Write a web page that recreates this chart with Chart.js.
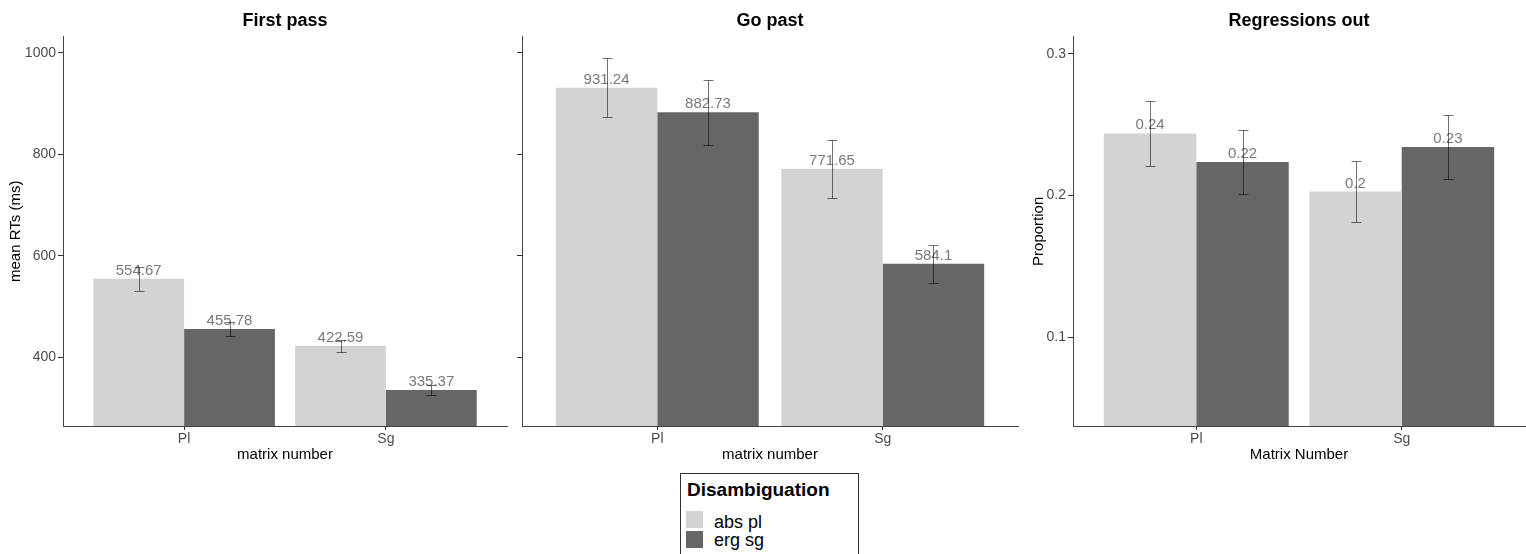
<!DOCTYPE html>
<html>
<head>
<meta charset="utf-8">
<script src="https://cdn.jsdelivr.net/npm/chart.js@4.4.1/dist/chart.umd.min.js"></script>
<style>
  body { margin:0; background:#fff; width:1526px; height:554px; overflow:hidden; position:relative; font-family:'Liberation Sans', Arial, sans-serif; }
  canvas { position:absolute; top:0; }
  #legend { position:absolute; left:680px; top:473px; width:179px; height:100px; box-sizing:border-box; border:1px solid #333; }
  #legend div { position:absolute; white-space:nowrap; }
  #legend .ttl { left:6px; top:6px; font-size:19px; line-height:19px; font-weight:bold; color:#000; }
  #legend .key { left:5px; width:17px; height:17px; }
  #legend .lbl { left:33px; font-size:18px; line-height:18px; color:#000; }
</style>
</head>
<body>
<canvas id="firstPass" width="515" height="470" style="left:0"></canvas>
<canvas id="goPast" width="510" height="470" style="left:515px"></canvas>
<canvas id="regressions" width="501" height="470" style="left:1025px"></canvas>
<div id="legend"></div>
<script>
// categorias e grupos
var categories = ['Pl', 'Sg']
var groups = ['abs pl', 'erg sg']
var groupColors = ['#d3d3d3', '#666666']
var legendTitle = 'Disambiguation'

// First pass (ms)
var firstPassAbs = [554.67, 422.59]
var firstPassErg = [455.78, 335.37]
var firstPassAbsErr = [24, 12]
var firstPassErgErr = [14, 9]

// Go past (ms)
var goPastAbs = [931.24, 771.65]
var goPastErg = [882.73, 584.1]
var goPastAbsErr = [58, 57]
var goPastErgErr = [64, 38]

// Regressions out (proportion)
var regAbs = [0.2438, 0.2028]
var regErg = [0.2236, 0.2342]
var regAbsErr = [0.0229, 0.0217]
var regErgErr = [0.0225, 0.0227]

// ticks do eixo y
var rtTicks = [400, 600, 800, 1000]
var propTicks = [0.1, 0.2, 0.3]

Chart.defaults.font.family = "'Liberation Sans', Arial, sans-serif"

/** Plugin para barras de erro e etiquetas de valor */
var errorBarPlugin = {
  id: 'errorBars',
  afterDatasetsDraw: function(chart){
    var ctx = chart.ctx
    var yScale = chart.scales.y
    chart.data.datasets.forEach(function(ds, di){
      var meta = chart.getDatasetMeta(di)
      meta.data.forEach(function(bar, i){
        var v = ds.data[i].y
        var e = ds.errors[i]
        var x = Math.round(bar.x) + 0.5
        // etiqueta
        ctx.save()
        ctx.font = '15px ' + Chart.defaults.font.family
        ctx.fillStyle = '#7a7a7a'
        ctx.textAlign = 'center'
        ctx.textBaseline = 'alphabetic'
        ctx.fillText(ds.valueLabels[i], bar.x, bar.y - 4)
        ctx.restore()
        // barra de erro
        var top = Math.round(yScale.getPixelForValue(v + e)) + 0.5
        var bottom = Math.round(yScale.getPixelForValue(v - e)) + 0.5
        ctx.save()
        ctx.strokeStyle = 'rgba(0,0,0,0.55)'
        ctx.lineWidth = 1
        ctx.beginPath()
        ctx.moveTo(x, top); ctx.lineTo(x, bottom)
        ctx.moveTo(x - 5, top); ctx.lineTo(x + 5, top)
        ctx.moveTo(x - 5, bottom); ctx.lineTo(x + 5, bottom)
        ctx.stroke()
        ctx.restore()
      })
    })
  }
}

function makePanel(id, cfg){
  var datasets = [cfg.abs, cfg.erg].map(function(vals, g){
    return {
      label: groups[g],
      backgroundColor: groupColors[g],
      borderWidth: 0,
      categoryPercentage: 0.9,
      barPercentage: 1.0,
      errors: g === 0 ? cfg.absErr : cfg.ergErr,
      valueLabels: vals.map(cfg.format),
      data: vals.map(function(v, i){ return {x: i + 1, y: v} })
    }
  })
  return new Chart(id, {
    type: 'bar',
    data: { datasets: datasets },
    options: {
      responsive: false,
      animation: false,
      events: [],
      layout: { padding: { left: 0, right: cfg.padRight, top: 0, bottom: 0 } },
      plugins: {
        legend: { display: false },
        tooltip: { enabled: false },
        title: {
          display: true, text: cfg.title, fullSize: false, color: '#000',
          font: { size: 18, weight: 'bold' },
          padding: { top: 10, bottom: 5 }
        }
      },
      scales: {
        x: {
          type: 'linear', min: 0.4, max: 2.6, offset: false,
          afterBuildTicks: function(s){ s.ticks = categories.map(function(c, i){ return {value: i + 1} }) },
          afterFit: function(s){ s.height = 44 },
          ticks: {
            callback: function(v){ return categories[v - 1] },
            font: { size: 14 }, color: '#4d4d4d', padding: 1, maxRotation: 0, autoSkip: false
          },
          grid: { display: true, offset: false, drawOnChartArea: false, drawTicks: true, tickLength: 4, color: '#333' },
          border: { display: true, color: '#444', width: 1 },
          title: { display: true, text: cfg.xTitle, font: { size: 15 }, color: '#000', padding: { top: 0, bottom: 6 } }
        },
        y: {
          min: cfg.yMin, max: cfg.yMax,
          afterBuildTicks: function(s){ s.ticks = cfg.yTicks.map(function(v){ return {value: v} }) },
          afterFit: function(s){ s.width = cfg.yWidth },
          ticks: {
            display: cfg.showLabels, font: { size: 14 }, color: '#4d4d4d', padding: 2,
            callback: function(v){ return String(v) }
          },
          grid: { display: true, drawOnChartArea: false, drawTicks: true, tickLength: 5, color: '#333' },
          border: { display: true, color: '#444', width: 1 },
          title: { display: !!cfg.yTitle, text: cfg.yTitle, font: { size: 15 }, color: '#000', padding: { top: cfg.yTitlePad, bottom: 0 } }
        }
      }
    },
    plugins: [errorBarPlugin]
  })
}

function plainFmt(v){ return String(v) }
function roundFmt(v){ return String(Math.round(v * 100) / 100) }

makePanel('firstPass', {
  title: 'First pass', xTitle: 'matrix number', yTitle: 'mean RTs (ms)',
  abs: firstPassAbs, erg: firstPassErg, absErr: firstPassAbsErr, ergErr: firstPassErgErr,
  yMin: 264.4, yMax: 1032, yTicks: rtTicks, yWidth: 63, padRight: 8, yTitlePad: 7,
  showLabels: true, format: plainFmt
})
makePanel('goPast', {
  title: 'Go past', xTitle: 'matrix number', yTitle: '',
  abs: goPastAbs, erg: goPastErg, absErr: goPastAbsErr, ergErr: goPastErgErr,
  yMin: 264.4, yMax: 1032, yTicks: rtTicks, yWidth: 7, padRight: 7, yTitlePad: 0,
  showLabels: false, format: plainFmt
})
makePanel('regressions', {
  title: 'Regressions out', xTitle: 'Matrix Number', yTitle: 'Proportion',
  abs: regAbs, erg: regErg, absErr: regAbsErr, ergErr: regErgErr,
  yMin: 0.0373, yMax: 0.3122, yTicks: propTicks, yWidth: 48, padRight: 1, yTitlePad: 5,
  showLabels: true, format: roundFmt
})

// legenda
var legend = document.getElementById('legend')
var html = '<div class="ttl">' + legendTitle + '</div>'
groups.forEach(function(g, i){
  html += '<div class="key" style="top:' + (37 + i * 20) + 'px;background:' + groupColors[i] + '"></div>'
  html += '<div class="lbl" style="top:' + (39 + i * 18) + 'px">' + g + '</div>'
})
legend.innerHTML = html
</script>
</body>
</html>
